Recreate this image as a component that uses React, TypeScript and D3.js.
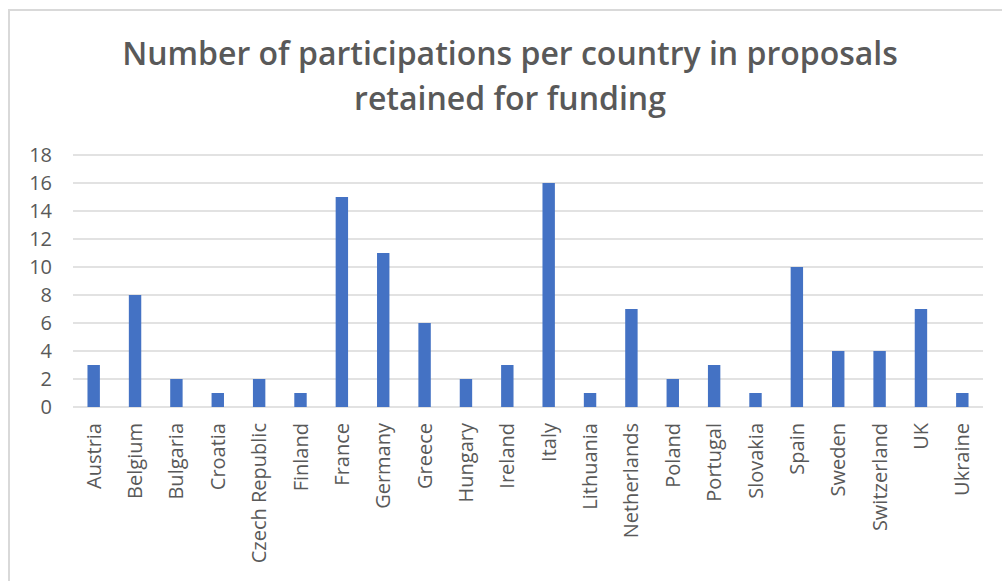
import React from "react";
import * as d3 from "d3";

const countries = ["Austria","Belgium","Bulgaria","Croatia","Czech Republic","Finland","France","Germany","Greece","Hungary","Ireland","Italy","Lithuania","Netherlands","Poland","Portugal","Slovakia","Spain","Sweden","Switzerland","UK","Ukraine"];
const participations = [3,8,2,1,2,1,15,11,6,2,3,16,1,7,2,3,1,10,4,4,7,1];
const yTicks = [0,2,4,6,8,10,12,14,16,18];
const titleLines = ["Number of participations per country in proposals", "retained for funding"];

const W = 1002, H = 581;
const plot = { left: 73, right: 983, top: 155, bottom: 407 };
const font = "'Open Sans', Lato, sans-serif";
const textColor = "#595959";

export default function App() {
  const x = d3.scaleBand<string>().domain(countries).range([plot.left, plot.right]).paddingInner(0.7).paddingOuter(0.35);
  const y = d3.scaleLinear().domain([0, 18]).range([plot.bottom, plot.top]);
  return (
    <svg width={W} height={H} style={{ position: "absolute", left: 0, top: 0, background: "#fff" }}>
      <rect x={9} y={10} width={W + 10} height={H + 10} fill="#fff" stroke="#d9d9d9" strokeWidth={2} />
      {titleLines.map((t, i) => (
        <text key={i} x={510} y={65 + i * 45} textAnchor="middle" fontFamily={font} fontWeight={600} fontSize={32} fill={textColor}>{t}</text>
      ))}
      {yTicks.map(v => (
        <g key={v}>
          <line x1={plot.left} x2={plot.right} y1={y(v)} y2={y(v)} stroke="#d9d9d9" strokeWidth={1.5} />
          <text x={52} y={y(v)} dy="0.35em" textAnchor="end" fontFamily={font} fontSize={20} fill={textColor}>{v}</text>
        </g>
      ))}
      {countries.map((c, i) => (
        <rect key={c} x={x(c)!} width={x.bandwidth()} y={y(participations[i])} height={y(0) - y(participations[i])} fill="#4472C4" />
      ))}
      {countries.map(c => {
        const cx = x(c)! + x.bandwidth() / 2;
        return (
          <text key={c} transform={`translate(${cx},${plot.bottom + 16}) rotate(-90)`} dy="0.35em" textAnchor="end" fontFamily={font} fontSize={20} fill={textColor}>{c}</text>
        );
      })}
    </svg>
  );
}
